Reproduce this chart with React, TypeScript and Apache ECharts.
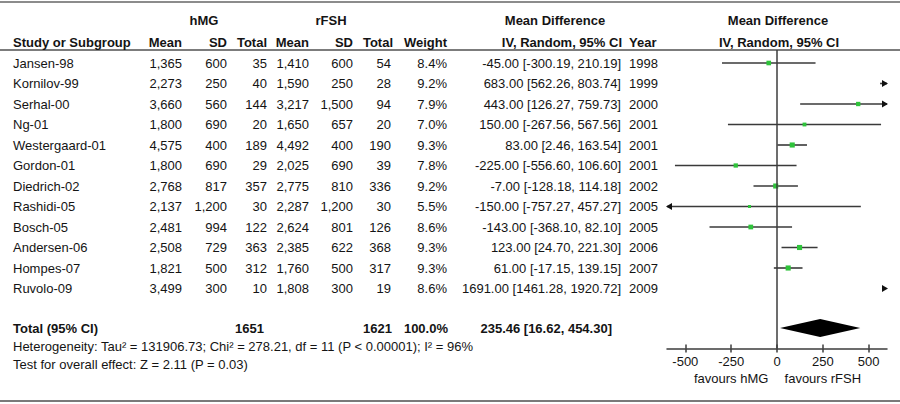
import React, { useEffect, useRef } from 'react';
import * as echarts from 'echarts';

// ---------- data ----------
const studies = ['Jansen-98', 'Kornilov-99', 'Serhal-00', 'Ng-01', 'Westergaard-01', 'Gordon-01', 'Diedrich-02', 'Rashidi-05', 'Bosch-05', 'Andersen-06', 'Hompes-07', 'Ruvolo-09'];
const hmgMean = [1365, 2273, 3660, 1800, 4575, 1800, 2768, 2137, 2481, 2508, 1821, 3499];
const hmgSD = [600, 250, 560, 690, 400, 690, 817, 1200, 994, 729, 500, 300];
const hmgTotal = [35, 40, 144, 20, 189, 29, 357, 30, 122, 363, 312, 10];
const rfshMean = [1410, 1590, 3217, 1650, 4492, 2025, 2775, 2287, 2624, 2385, 1760, 1808];
const rfshSD = [600, 250, 1500, 657, 400, 690, 810, 1200, 801, 622, 500, 300];
const rfshTotal = [54, 28, 94, 20, 190, 39, 336, 30, 126, 368, 317, 19];
const weights = [8.4, 9.2, 7.9, 7.0, 9.3, 7.8, 9.2, 5.5, 8.6, 9.3, 9.3, 8.6];
const meanDiff = [-45.0, 683.0, 443.0, 150.0, 83.0, -225.0, -7.0, -150.0, -143.0, 123.0, 61.0, 1691.0];
const ciLow = [-300.19, 562.26, 126.27, -267.56, 2.46, -556.6, -128.18, -757.27, -368.1, 24.7, -17.15, 1461.28];
const ciHigh = [210.19, 803.74, 759.73, 567.56, 163.54, 106.6, 114.18, 457.27, 82.1, 221.3, 139.15, 1920.72];
const years = [1998, 1999, 2000, 2001, 2001, 2001, 2002, 2005, 2005, 2006, 2007, 2009];

const totalHmg = 1651;
const totalRfsh = 1621;
const totalWeight = 100.0;
const totalMD = 235.46;
const totalLow = 16.62;
const totalHigh = 454.3;

const tau2 = 131906.73;
const chi2 = 278.21;
const dfHet = 11;
const i2 = 96;
const zEffect = 2.11;
const pEffect = 0.03;

const xTicks = [-500, -250, 0, 250, 500];
const X_MIN = -600;
const X_MAX = 600;

// ---------- layout ----------
const FONT = "'Liberation Sans', Arial, Helvetica, sans-serif";
const FS = 13;
const TEXT = '#141414';
const GRID_TOP = 50;
const AXIS_Y = 348.5;
const H = 404;
const ROW0 = 63;
const ROW_H = 20.5;
const Y_MIN = -(ROW0 - GRID_TOP) / ROW_H;
const Y_MAX = Y_MIN + (AXIS_Y - GRID_TOP) / ROW_H;
const rowAt = (py: number) => Y_MIN + (py - GRID_TOP) / ROW_H;
const TOTAL_ROW = rowAt(328);

const COL = {
  name: 13,
  hMean: 182,
  hSD: 227,
  hTot: 267,
  rMean: 309,
  rSD: 353,
  rTot: 391,
  weight: 447,
  ci: 621,
  year: 629,
};

const fmt = (n: number) => n.toLocaleString('en-US');
const ciText = (m: number, l: number, h: number) => `${m.toFixed(2)} [${l.toFixed(2)}, ${h.toFixed(2)}]`;

type Cell = { x: number; row: number; text: string; align: string; bold?: boolean };

function buildCells(): Cell[] {
  const cells: Cell[] = [];
  const h1 = rowAt(20);
  const h2 = rowAt(42);
  cells.push({ x: 204, row: h1, text: 'hMG', align: 'center', bold: true });
  cells.push({ x: 331, row: h1, text: 'rFSH', align: 'center', bold: true });
  cells.push({ x: 555, row: h1, text: 'Mean Difference', align: 'center', bold: true });
  cells.push({ x: 778, row: h1, text: 'Mean Difference', align: 'center', bold: true });
  cells.push({ x: COL.name, row: h2, text: 'Study or Subgroup', align: 'left', bold: true });
  cells.push({ x: COL.hMean, row: h2, text: 'Mean', align: 'right', bold: true });
  cells.push({ x: COL.hSD, row: h2, text: 'SD', align: 'right', bold: true });
  cells.push({ x: COL.hTot, row: h2, text: 'Total', align: 'right', bold: true });
  cells.push({ x: COL.rMean, row: h2, text: 'Mean', align: 'right', bold: true });
  cells.push({ x: COL.rSD, row: h2, text: 'SD', align: 'right', bold: true });
  cells.push({ x: COL.rTot + 2, row: h2, text: 'Total', align: 'right', bold: true });
  cells.push({ x: COL.weight, row: h2, text: 'Weight', align: 'right', bold: true });
  cells.push({ x: COL.ci + 1, row: h2, text: 'IV, Random, 95% CI', align: 'right', bold: true });
  cells.push({ x: COL.year, row: h2, text: 'Year', align: 'left', bold: true });
  cells.push({ x: 779, row: h2, text: 'IV, Random, 95% CI', align: 'center', bold: true });

  studies.forEach((s, i) => {
    cells.push({ x: COL.name, row: i, text: s, align: 'left' });
    cells.push({ x: COL.hMean, row: i, text: fmt(hmgMean[i]), align: 'right' });
    cells.push({ x: COL.hSD, row: i, text: fmt(hmgSD[i]), align: 'right' });
    cells.push({ x: COL.hTot, row: i, text: String(hmgTotal[i]), align: 'right' });
    cells.push({ x: COL.rMean, row: i, text: fmt(rfshMean[i]), align: 'right' });
    cells.push({ x: COL.rSD, row: i, text: fmt(rfshSD[i]), align: 'right' });
    cells.push({ x: COL.rTot, row: i, text: String(rfshTotal[i]), align: 'right' });
    cells.push({ x: COL.weight, row: i, text: weights[i].toFixed(1) + '%', align: 'right' });
    cells.push({ x: COL.ci, row: i, text: ciText(meanDiff[i], ciLow[i], ciHigh[i]), align: 'right' });
    cells.push({ x: COL.year, row: i, text: String(years[i]), align: 'left' });
  });

  cells.push({ x: COL.name, row: TOTAL_ROW, text: 'Total (95% CI)', align: 'left', bold: true });
  cells.push({ x: COL.hTot - 3, row: TOTAL_ROW, text: String(totalHmg), align: 'right', bold: true });
  cells.push({ x: COL.rTot + 1, row: TOTAL_ROW, text: String(totalRfsh), align: 'right', bold: true });
  cells.push({ x: COL.weight + 1, row: TOTAL_ROW, text: totalWeight.toFixed(1) + '%', align: 'right', bold: true });
  cells.push({ x: COL.ci - 9, row: TOTAL_ROW, text: ciText(totalMD, totalLow, totalHigh), align: 'right', bold: true });

  cells.push({
    x: COL.name,
    row: rowAt(346),
    text: `Heterogeneity: Tau\u00b2 = ${tau2.toFixed(2)}; Chi\u00b2 = ${chi2.toFixed(2)}, df = ${dfHet} (P < 0.00001); I\u00b2 = ${i2}%`,
    align: 'left',
  });
  cells.push({
    x: COL.name,
    row: rowAt(364),
    text: `Test for overall effect: Z = ${zEffect.toFixed(2)} (P = ${pEffect.toFixed(2)})`,
    align: 'left',
  });
  return cells;
}

export default function App() {
  const ref = useRef<HTMLDivElement>(null);

  useEffect(() => {
    document.body.style.margin = '0';
    const chart = echarts.init(ref.current as HTMLDivElement, null, { renderer: 'svg' });
    const cells = buildCells();
    const studyData = studies.map((_, i) => [meanDiff[i], ciLow[i], ciHigh[i], weights[i], i]);

    const option: any = {
      animation: false,
      backgroundColor: '#ffffff',
      textStyle: { fontFamily: FONT },
      grid: [
        { left: 667, right: 13, top: GRID_TOP, bottom: H - AXIS_Y },
        { left: 0, right: 0, top: GRID_TOP, bottom: H - AXIS_Y },
      ],
      xAxis: [
        {
          type: 'value',
          gridIndex: 0,
          min: X_MIN,
          max: X_MAX,
          axisLine: { show: true, onZero: false, lineStyle: { color: '#3c3c3c', width: 1.5 } },
          axisTick: { show: true, length: 4, customValues: xTicks, lineStyle: { color: '#3c3c3c', width: 1.5 } },
          axisLabel: { show: true, customValues: xTicks, margin: 6, fontSize: FS, color: TEXT, fontFamily: FONT },
          splitLine: { show: false },
        },
        { type: 'value', gridIndex: 1, min: 0, max: 900, show: false },
        {
          type: 'value',
          gridIndex: 0,
          position: 'bottom',
          min: X_MIN,
          max: X_MAX,
          axisLine: { show: false, onZero: false },
          axisTick: { show: true, inside: true, length: 4, customValues: xTicks, lineStyle: { color: '#3c3c3c', width: 1.5 } },
          axisLabel: { show: false },
          splitLine: { show: false },
        },
      ],
      yAxis: [
        { type: 'value', gridIndex: 0, min: Y_MIN, max: Y_MAX, inverse: true, show: false },
        { type: 'value', gridIndex: 1, min: Y_MIN, max: Y_MAX, inverse: true, show: false },
      ],
      graphic: [
        { type: 'line', shape: { x1: 0, y1: 2, x2: 900, y2: 2 }, style: { stroke: '#8c8c8c', lineWidth: 2 }, silent: true },
        { type: 'line', shape: { x1: 0, y1: GRID_TOP, x2: 900, y2: GRID_TOP }, style: { stroke: '#505050', lineWidth: 1.5 }, silent: true },
        { type: 'line', shape: { x1: 0, y1: 401, x2: 900, y2: 401 }, style: { stroke: '#7a7a7a', lineWidth: 2 }, silent: true },
      ],
      series: [
        {
          type: 'custom',
          name: 'studies',
          xAxisIndex: 0,
          yAxisIndex: 0,
          clip: false,
          silent: true,
          data: studyData,
          renderItem: (params: any, api: any) => {
            const m = api.value(0);
            const lo = api.value(1);
            const hi = api.value(2);
            const w = api.value(3);
            const row = api.value(4);
            const y = api.coord([0, row])[1];
            const xMinPx = api.coord([X_MIN, row])[0];
            const xMaxPx = api.coord([X_MAX, row])[0];
            const x1 = Math.max(api.coord([lo, row])[0], xMinPx);
            const x2 = Math.min(api.coord([hi, row])[0], xMaxPx);
            const stroke = '#3a3a3a';
            const children: any[] = [];
            if (x2 > x1) {
              children.push({ type: 'line', shape: { x1, y1: y, x2, y2: y }, style: { stroke, lineWidth: 1.6 } });
            }
            if (hi > X_MAX) {
              children.push({ type: 'polygon', shape: { points: [[xMaxPx + 1, y], [xMaxPx - 5, y - 3.5], [xMaxPx - 5, y + 3.5]] }, style: { fill: '#111' } });
            }
            if (lo < X_MIN) {
              children.push({ type: 'polygon', shape: { points: [[xMinPx - 1, y], [xMinPx + 5, y - 3.5], [xMinPx + 5, y + 3.5]] }, style: { fill: '#111' } });
            }
            if (m >= X_MIN && m <= X_MAX) {
              const s = w * 0.55;
              const cx = api.coord([m, row])[0];
              children.push({ type: 'rect', shape: { x: cx - s / 2, y: y - s / 2, width: s, height: s }, style: { fill: '#2ec33a' } });
            }
            return { type: 'group', children };
          },
        },
        {
          type: 'custom',
          name: 'total',
          xAxisIndex: 0,
          yAxisIndex: 0,
          clip: false,
          silent: true,
          data: [[totalMD, totalLow, totalHigh, TOTAL_ROW]],
          renderItem: (params: any, api: any) => {
            const row = api.value(3);
            const c = api.coord([api.value(0), row]);
            const l = api.coord([api.value(1), row]);
            const r = api.coord([api.value(2), row]);
            const hh = 9;
            return {
              type: 'polygon',
              shape: { points: [[l[0], c[1]], [c[0], c[1] - hh], [r[0], c[1]], [c[0], c[1] + hh]] },
              style: { fill: '#000' },
            };
          },
          markLine: {
            silent: true,
            symbol: 'none',
            label: { show: false },
            lineStyle: { color: '#3c3c3c', width: 1.5, type: 'solid' },
            data: [{ xAxis: 0 }],
          },
        },
        {
          type: 'custom',
          name: 'favours',
          xAxisIndex: 0,
          yAxisIndex: 0,
          clip: false,
          silent: true,
          data: [[-250, rowAt(378)], [250, rowAt(378)]],
          renderItem: (params: any, api: any) => {
            const p = api.coord([api.value(0), api.value(1)]);
            return {
              type: 'text',
              x: p[0],
              y: p[1],
              style: {
                text: params.dataIndex === 0 ? 'favours hMG' : 'favours rFSH',
                align: 'center',
                verticalAlign: 'middle',
                fontSize: FS,
                fontFamily: FONT,
                fill: TEXT,
              },
            };
          },
        },
        {
          type: 'custom',
          name: 'table',
          xAxisIndex: 1,
          yAxisIndex: 1,
          clip: false,
          silent: true,
          data: cells.map((c) => [c.x, c.row]),
          renderItem: (params: any, api: any) => {
            const c = cells[params.dataIndex];
            const p = api.coord([api.value(0), api.value(1)]);
            return {
              type: 'text',
              x: p[0],
              y: p[1],
              style: {
                text: c.text,
                align: c.align,
                verticalAlign: 'middle',
                fontSize: FS,
                fontWeight: c.bold ? 'bold' : 'normal',
                fontFamily: FONT,
                fill: TEXT,
              },
            };
          },
        },
      ],
    };

    chart.setOption(option);
    return () => chart.dispose();
  }, []);

  return <div ref={ref} style={{ width: 900, height: 404 }} />;
}
